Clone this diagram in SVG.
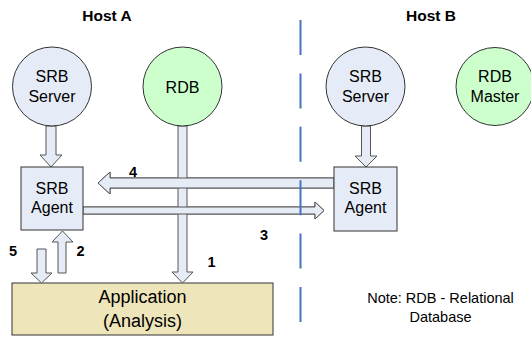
<svg xmlns="http://www.w3.org/2000/svg" width="531" height="337" viewBox="0 0 531 337">
<style>
text{font-family:"Liberation Sans",Arial,sans-serif;text-anchor:middle;fill:#000}
.h{font-size:15.5px;font-weight:bold}
.n{font-size:16px}
.num{font-size:14.5px;font-weight:bold}
.app{font-size:18px}
.note{font-size:14.5px}
.srb{fill:#E6ECF7;stroke:#333;stroke-width:1}
.rdb{fill:#CCFFCC;stroke:#333;stroke-width:1}
.ar{fill:#E6ECF5;stroke:#555;stroke-width:1;stroke-linejoin:miter}
.aro{fill:none;stroke:#555;stroke-width:1}
</style>
<rect width="531" height="337" fill="#fff"/>
<text class="h" x="107" y="21">Host A</text>
<text class="h" x="431" y="21">Host B</text>
<g id="app">
<rect x="12" y="283" width="261" height="52" fill="#EEE5BA" stroke="#333" stroke-width="1"/>
<text class="app" x="142.5" y="303">Application</text>
<text class="app" x="142.5" y="327">(Analysis)</text>
</g>
<g id="connectors">
<polygon id="a4" class="ar" points="334,178 334,188 110,188 110,194 98,183 110,172 110,178"/>
<polygon id="a3" class="ar" points="83,207 315,207 315,202 324,210.5 315,219 315,214 83,214"/>
<polygon class="ar" points="178,126 187,126 187,272 193,272 182.5,283 172,272 178,272"/>
<use href="#a4" class="aro"/>
<use href="#a3" class="aro"/>
<polygon class="ar" points="46,126 56,126 56,155 62,155 51,167 40,155 46,155"/>
<polygon class="ar" points="361.5,126 370.5,126 370.5,156 377,156 366,167 355,156 361.5,156"/>
<polygon class="ar" points="37,249 46,249 46,273 52,273 41.5,283 31,273 37,273"/>
<polygon class="ar" points="58,273 58,242 52,242 62.5,231 73,242 66,242 66,273"/>
<text class="num" x="133" y="177">4</text>
<text class="num" x="264" y="240">3</text>
<text class="num" x="80.5" y="256">2</text>
<text class="num" x="13" y="256">5</text>
<text class="num" x="211.5" y="267">1</text>
</g>
<line x1="300.5" y1="20" x2="300.5" y2="322" stroke="#4472C4" stroke-width="2" stroke-dasharray="35 18.4"/>
<g id="srbServerA">
<circle class="srb" cx="52" cy="86.5" r="39.5"/>
<text class="n" x="52" y="82">SRB</text>
<text class="n" x="52" y="102">Server</text>
</g>
<g id="rdbA">
<circle class="rdb" cx="182.5" cy="86.5" r="39.5"/>
<text class="n" x="182.5" y="92.5">RDB</text>
</g>
<g id="srbServerB">
<circle class="srb" cx="365.5" cy="86.5" r="39.5"/>
<text class="n" x="365.5" y="82">SRB</text>
<text class="n" x="365.5" y="102">Server</text>
</g>
<g id="rdbMaster">
<circle class="rdb" cx="495" cy="86.5" r="39"/>
<text class="n" x="495" y="82">RDB</text>
<text class="n" x="495" y="102">Master</text>
</g>
<g id="agentA">
<rect class="srb" x="21" y="167" width="62" height="63"/>
<text class="n" x="52" y="194">SRB</text>
<text class="n" x="52" y="213">Agent</text>
</g>
<g id="agentB">
<rect class="srb" x="334" y="167" width="63" height="64"/>
<text class="n" x="365.5" y="194">SRB</text>
<text class="n" x="365.5" y="213">Agent</text>
</g>
<g id="note">
<text class="note" x="440.5" y="303">Note: RDB - Relational</text>
<text class="note" x="440.5" y="322">Database</text>
</g>
</svg>
